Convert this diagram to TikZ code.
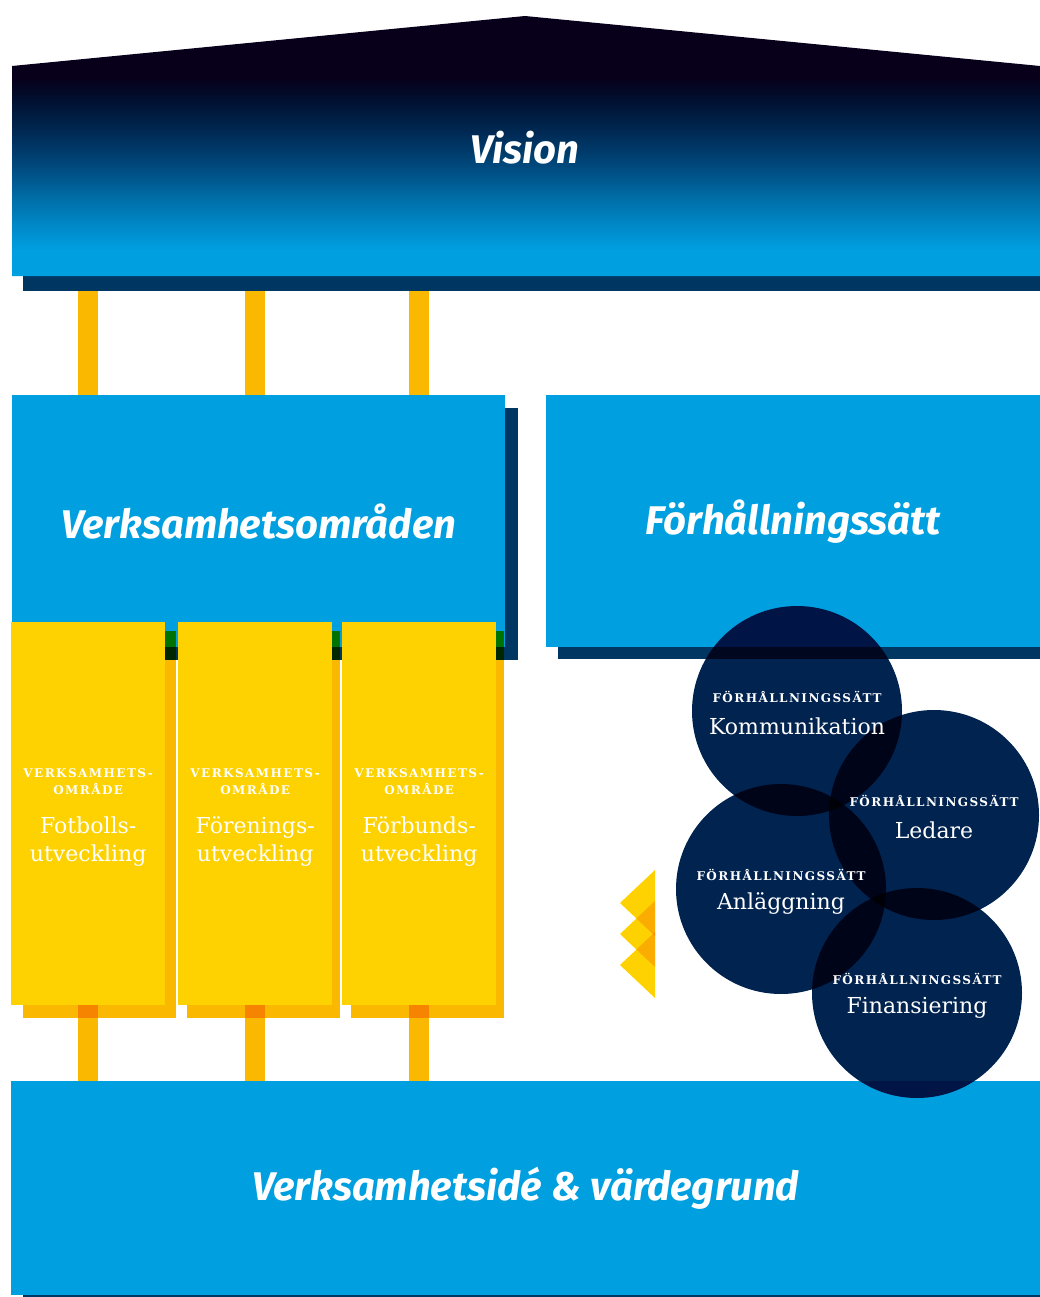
\documentclass[tikz,border=0pt]{standalone}
\usepackage{fontspec}
\setsansfont{Fira Sans}
\newfontfamily\serifface{DejaVu Serif}
\newfontfamily\capsface{DejaVu Serif}[LetterSpace=12]
\usetikzlibrary{shapes}

\definecolor{skyblue}{HTML}{009FE0}
\definecolor{navyshadow}{HTML}{003662}
\definecolor{nightblue}{HTML}{08001A}
\definecolor{fadeA}{HTML}{008FD0}
\definecolor{fadeB}{HTML}{0070AA}
\definecolor{fadeC}{HTML}{004A7E}
\definecolor{fadeD}{HTML}{002A55}
\definecolor{fadeE}{HTML}{001030}
\definecolor{goldyellow}{HTML}{FDD200}
\definecolor{amber}{HTML}{FBB800}
\definecolor{circlenavy}{HTML}{00234F}

% vision fade, path runs from 25bp (bottom) to 75bp (top)
\pgfdeclareverticalshading{visionfade}{100bp}{color(0bp)=(skyblue); color(30bp)=(skyblue);
  color(33.3bp)=(fadeA); color(39.6bp)=(fadeB); color(46bp)=(fadeC); color(52.5bp)=(fadeD);
  color(58.8bp)=(fadeE); color(63bp)=(nightblue); color(100bp)=(nightblue)}

\begin{document}
\begin{tikzpicture}[x=1pt, y=-1pt,
    box/.style={fill=skyblue, anchor=north west, inner sep=0pt},
    title/.style={text=white, font=\sffamily\bfseries\itshape\fontsize{40}{44}\selectfont},
    pillar/.style={draw=amber, line width=20pt, blend mode=multiply},
    column/.style={fill=goldyellow, anchor=north west, inner sep=0pt,
                   minimum width=154pt, minimum height=383pt},
    colcap/.style={text=white, align=center, font=\capsface\bfseries\fontsize{12}{17}\selectfont},
    colname/.style={text=white, align=center, font=\serifface\fontsize{22}{28}\selectfont},
    ring/.style={circle, fill=circlenavy, minimum size=210pt, inner sep=0pt, blend mode=multiply},
    ringcap/.style={text=white, font=\capsface\bfseries\fontsize{12}{14}\selectfont},
    ringname/.style={text=white, font=\serifface\fontsize{22}{26}\selectfont}]
  \useasboundingbox (0,0) rectangle (1040,1297);

  % Vision roof
  \node[fill=navyshadow, anchor=north west, inner sep=0pt,
        minimum width=1017pt, minimum height=15pt] (visfoot) at (23,276) {};
  \shade[shading=visionfade]
    (12,276) -- (12,66) -- (525,16) -- (1040,66) -- (1040,276) -- cycle;
  \node[title] (vision) at (525,148) {Vision};

  % left block
  \fill[navyshadow] (25,408) rectangle (518,660);
  \node[box, title, minimum width=493pt, minimum height=252pt] (verk) at (12,395) {Verksamhetsområden};

  % right block
  \fill[navyshadow] (558,408) rectangle (1040,659);
  \node[box, title, minimum width=494pt, minimum height=252pt] (forh) at (546,395) {Förhållningssätt};

  % base
  \fill[navyshadow] (23,1290) rectangle (1040,1297);
  \node[box, title, minimum width=1029pt, minimum height=214pt] (base) at (11,1081) {Verksamhetsidé \& värdegrund};

  % columns
  \foreach \x in {23,187,351}
    \fill[amber, blend mode=multiply] (\x,631) rectangle ({\x+153},1018);
  \node[column] (col1) at (11,622) {};
  \node[column] (col2) at (178,622) {};
  \node[column] (col3) at (342,622) {};
  \foreach \c/\name in {col1/Fotbolls-, col2/Förenings-, col3/Förbunds-} {
    \node[colcap] (\c cap) at ([yshift=32pt]\c.center) {VERKSAMHETS-\\OMRÅDE};
    \node[colname] (\c name) at ([yshift=-28pt]\c.center) {\name\\utveckling};
  }

  % pillars
  \foreach \c in {col1,col2,col3} {
    \draw[pillar] (visfoot.south -| \c) -- (verk.north -| \c);
    \draw[pillar] (\c.south) -- (base.north -| \c);
  }

  % arrows
  \begin{scope}[blend group = multiply]
    \foreach \y in {870,901,932}
      \fill[goldyellow] (655,\y) -- (620,{\y+33}) -- (655,{\y+66}) -- cycle;
  \end{scope}

  % circles
  \node[ring] (komm) at (797,711) {};
  \node[ring] (led)  at (934,815) {};
  \node[ring] (anl)  at (781,889) {};
  \node[ring] (fin)  at (917,993) {};
  \foreach \r/\name in {komm/Kommunikation, led/Ledare, anl/Anläggning, fin/Finansiering} {
    \node[ringcap] (\r cap) at ([yshift=14pt]\r.center) {FÖRHÅLLNINGSSÄTT};
    \node[ringname] (\r name) at ([yshift=-15pt]\r.center) {\name};
  }
\end{tikzpicture}
\end{document}
